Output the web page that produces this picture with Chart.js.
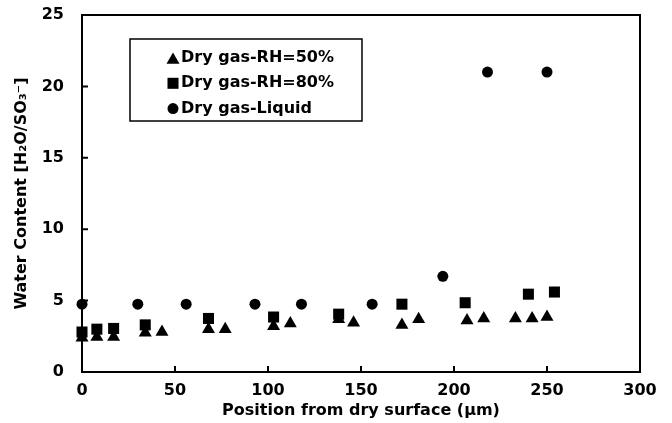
<!DOCTYPE html>
<html><head><meta charset="utf-8">
<script src="https://cdn.jsdelivr.net/npm/chart.js@4/dist/chart.umd.min.js"></script>
<style>html,body{margin:0;padding:0;background:#fff;}#wrap{width:672px;height:423px;}</style>
</head><body><div id="wrap"><canvas id="c" width="672" height="423"></canvas></div>
<script>
const seriesLabels = ['Dry gas-RH=50%', 'Dry gas-RH=80%', 'Dry gas-Liquid'];
const rh50X = [0, 8, 17, 34, 43, 68, 77, 103, 112, 138, 146, 172, 181, 207, 216, 233, 242, 250];
const rh50Y = [2.4, 2.45, 2.45, 2.75, 2.8, 3.0, 3.0, 3.2, 3.4, 3.7, 3.45, 3.3, 3.7, 3.6, 3.75, 3.75, 3.75, 3.85];
const rh80X = [0, 8, 17, 34, 68, 103, 138, 172, 206, 240, 254];
const rh80Y = [2.8, 3.0, 3.05, 3.3, 3.75, 3.85, 4.05, 4.75, 4.85, 5.45, 5.6];
const liqX = [0, 30, 56, 93, 118, 156, 194, 218, 250];
const liqY = [4.75, 4.75, 4.75, 4.75, 4.75, 4.75, 6.7, 21, 21];
const xTicks = [0, 50, 100, 150, 200, 250, 300];
const yTicks = [0, 5, 10, 15, 20, 25];
const xTitle = 'Position from dry surface (μm)';
const yTitle = 'Water Content [H₂O/SO₃⁻]';

const FONT = "'DejaVu Sans', sans-serif";
const pts = (xs, ys) => xs.map((x, i) => ({ x: x, y: ys[i] }));

function drawMarker(ctx, style, r, x, y) {
  ctx.beginPath();
  if (style === 'triangle') {
    ctx.moveTo(x, y - r);
    ctx.lineTo(x + r * Math.cos(Math.PI / 6), y + r / 2);
    ctx.lineTo(x - r * Math.cos(Math.PI / 6), y + r / 2);
    ctx.closePath();
  } else if (style === 'rect') {
    const s = Math.SQRT1_2 * r;
    ctx.rect(x - s, y - s, 2 * s, 2 * s);
  } else {
    ctx.arc(x, y, r, 0, Math.PI * 2);
  }
  ctx.fill();
}

const framePlugin = {
  id: 'frame',
  beforeDatasetsDraw(chart) {
    const { ctx, chartArea: a, scales } = chart;
    ctx.save();
    ctx.strokeStyle = '#000';
    ctx.lineWidth = 2;
    ctx.strokeRect(a.left, a.top, a.right - a.left, a.bottom - a.top);
    ctx.beginPath();
    yTicks.forEach(v => { const p = scales.y.getPixelForValue(v); ctx.moveTo(a.left, p); ctx.lineTo(a.left + 6, p); });
    xTicks.forEach(v => { const p = scales.x.getPixelForValue(v); ctx.moveTo(p, a.bottom); ctx.lineTo(p, a.bottom - 6); });
    ctx.stroke();
    ctx.restore();
  }
};

const legendPlugin = {
  id: 'boxLegend',
  afterDraw(chart) {
    const { ctx, chartArea: a } = chart;
    const bx = a.left + 48, by = a.top + 24, bw = 232, bh = 82;
    ctx.save();
    ctx.strokeStyle = '#000';
    ctx.lineWidth = 1.5;
    ctx.fillStyle = '#fff';
    ctx.fillRect(bx, by, bw, bh);
    ctx.strokeRect(bx, by, bw, bh);
    ctx.font = 'bold 16px ' + FONT;
    ctx.textBaseline = 'middle';
    ctx.textAlign = 'left';
    chart.data.datasets.forEach((ds, i) => {
      const yy = by + 19 + i * 25.3;
      ctx.fillStyle = '#000';
      drawMarker(ctx, ds.pointStyle, ds.pointRadius, bx + 43, yy + (ds.pointStyle === 'triangle' ? 2 : 0));
      ctx.fillText(ds.label, bx + 51, yy);
    });
    ctx.restore();
  }
};

new Chart(document.getElementById('c'), {
  type: 'scatter',
  data: {
    datasets: [
      { label: seriesLabels[0], data: pts(rh50X, rh50Y), pointStyle: 'triangle', pointRadius: 7.5, backgroundColor: '#000', borderWidth: 0, clip: false },
      { label: seriesLabels[1], data: pts(rh80X, rh80Y), pointStyle: 'rect', pointRadius: 7.8, backgroundColor: '#000', borderWidth: 0, clip: false },
      { label: seriesLabels[2], data: pts(liqX, liqY), pointStyle: 'circle', pointRadius: 5.5, backgroundColor: '#000', borderWidth: 0, clip: false }
    ]
  },
  options: {
    responsive: false,
    animation: false,
    devicePixelRatio: 1,
    layout: { padding: { left: 0, right: 32, top: 15, bottom: 0 } },
    plugins: { legend: { display: false }, tooltip: { enabled: false } },
    scales: {
      x: {
        type: 'linear', min: 0, max: 300,
        afterFit: s => { s.height = 51; },
        grid: { display: false },
        border: { display: false },
        ticks: { stepSize: 50, padding: 1, color: '#000', font: { family: FONT, size: 16, weight: 'bold' }, maxRotation: 0 },
        title: { display: true, text: xTitle, color: '#000', font: { family: FONT, size: 16, weight: 'bold' }, padding: { top: 0, bottom: 3 } }
      },
      y: {
        type: 'linear', min: 0, max: 25,
        afterFit: s => { s.width = 82; s.paddingTop = 0; s.paddingBottom = 0; },
        grid: { display: false },
        border: { display: false },
        ticks: { stepSize: 5, padding: 10, color: '#000', font: { family: FONT, size: 16, weight: 'bold' } },
        title: { display: true, text: yTitle, color: '#000', font: { family: FONT, size: 16, weight: 'bold' }, padding: { top: 12, bottom: 0 } }
      }
    }
  },
  plugins: [framePlugin, legendPlugin]
});
</script>
</body></html>
